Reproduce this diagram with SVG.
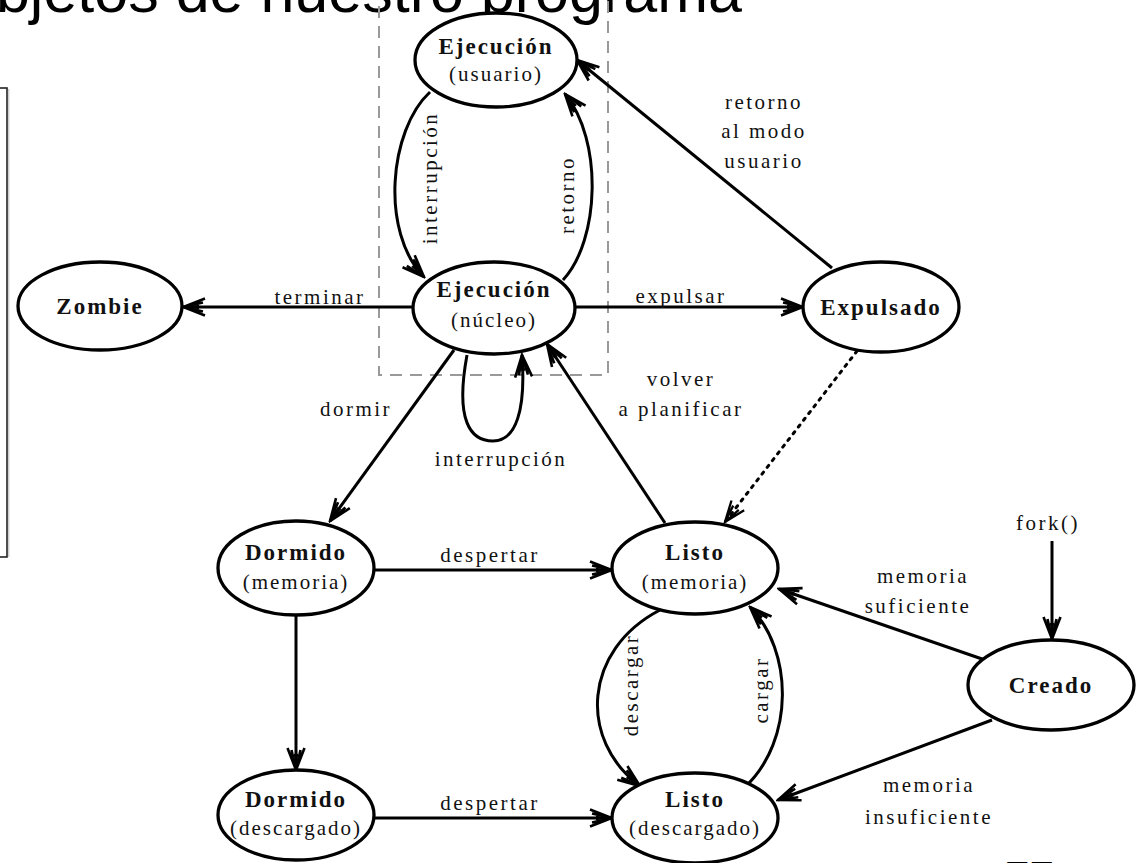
<svg xmlns="http://www.w3.org/2000/svg" width="1137" height="863" viewBox="0 0 1137 863">
  <style>
    .st { fill: #fff; stroke: #000; stroke-width: 3.3; }
    .nm { font-family: "Liberation Serif", "DejaVu Serif", serif; font-weight: bold; font-size: 23px; letter-spacing: 2px; text-anchor: middle; fill: #111; }
    .sub { font-family: "Liberation Serif", "DejaVu Serif", serif; font-size: 21px; letter-spacing: 2px; text-anchor: middle; fill: #111; }
    .lbl { font-family: "Liberation Serif", "DejaVu Serif", serif; font-size: 21px; letter-spacing: 2.5px; text-anchor: middle; fill: #111; }
    .edge { fill: none; stroke: #000; stroke-width: 3; marker-end: url(#arr); }
    .dot { fill: none; stroke: #000; stroke-width: 3; stroke-dasharray: 2.5 6; stroke-linecap: round; marker-end: url(#arrThin); }
    .title { font-family: "Liberation Sans", Arial, sans-serif; font-size: 61px; fill: #000; }
  </style>
  <defs>
    <!-- double-barbed arrowhead with a solid core -->
    <marker id="arr" viewBox="-26 -12 28 24" refX="0" refY="0" markerWidth="28" markerHeight="24" markerUnits="userSpaceOnUse" orient="auto">
      <path d="M-22,-8.5 L0,0 L-22,8.5 M-20,-4.5 L0,0 L-20,4.5" fill="none" stroke="#000" stroke-width="2.6"/>
      <path d="M-16,-2.2 L0,0 L-16,2.2 Z" fill="#000"/>
    </marker>
    <marker id="arrThin" viewBox="-26 -12 28 24" refX="0" refY="0" markerWidth="28" markerHeight="24" markerUnits="userSpaceOnUse" orient="auto">
      <path d="M-21,-8 L0,0 L-21,8 M-18,-3.5 L0,0 L-18,3.5" fill="none" stroke="#000" stroke-width="2.3"/>
    </marker>
  </defs>

  <rect width="1137" height="863" fill="#fff"/>

  <!-- heading, cut by the top edge -->
  <text class="title" x="-38" y="12">objetos de nuestro programa</text>

  <!-- frame on the left margin -->
  <rect x="-10" y="88" width="17" height="469" fill="none" stroke="#222" stroke-width="1.6"/>
  <line x1="8.8" y1="89" x2="8.8" y2="557" stroke="#bbb" stroke-width="1"/>

  <!-- running-mode region -->
  <rect x="379" y="-10" width="229" height="385" fill="none" stroke="#999" stroke-width="2" stroke-dasharray="12 8"/>

  <!-- page number -->
  <text x="1005" y="893" font-family="Liberation Sans, Arial, sans-serif" font-size="44" fill="#000">77</text>

  <g id="connectors">
    <!-- terminar -->
    <path class="edge" d="M413,307 L183,307"/>
    <text class="lbl" x="320" y="304">terminar</text>
    <!-- expulsar -->
    <path class="edge" d="M576,307 L803,307"/>
    <text class="lbl" x="681" y="303">expulsar</text>
    <!-- retorno al modo usuario -->
    <path class="edge" d="M832,268 L577,60"/>
    <text class="lbl" x="764" y="109">retorno</text>
    <text class="lbl" x="764" y="138">al modo</text>
    <text class="lbl" x="764" y="168">usuario</text>
    <!-- interrupción: usuario to núcleo -->
    <path class="edge" d="M430,92 C389,130 380,232 424,277"/>
    <text class="lbl" transform="translate(437,178) rotate(-90)">interrupción</text>
    <!-- retorno: núcleo to usuario -->
    <path class="edge" d="M563,280 C600,240 603,140 565,94"/>
    <text class="lbl" transform="translate(574,195) rotate(-90)">retorno</text>
    <!-- interrupción: self loop on núcleo -->
    <path class="edge" d="M467,355 C455,420 470,441 493,441 C516,441 526,410 522,355"/>
    <text class="lbl" x="501" y="466">interrupción</text>
    <!-- dormir -->
    <path class="edge" d="M454,350 L330,521"/>
    <text class="lbl" x="356" y="416">dormir</text>
    <!-- volver a planificar -->
    <path class="edge" d="M665,523 L547,344"/>
    <text class="lbl" x="681" y="386">volver</text>
    <text class="lbl" x="681" y="416">a planificar</text>
    <!-- expulsado back to listo -->
    <path class="dot" d="M857,351 L725,522"/>
    <!-- despertar (memoria) -->
    <path class="edge" d="M375,570 L612,570"/>
    <text class="lbl" x="490" y="562">despertar</text>
    <!-- dormido memoria to descargado -->
    <path class="edge" d="M296,615 L296,770"/>
    <!-- despertar (descargado) -->
    <path class="edge" d="M374,818 L612,818"/>
    <text class="lbl" x="490" y="810">despertar</text>
    <!-- descargar -->
    <path class="edge" d="M660,610 C583,650 578,740 640,786"/>
    <text class="lbl" transform="translate(638,685) rotate(-90)">descargar</text>
    <!-- cargar -->
    <path class="edge" d="M745,787 C795,740 793,650 750,607"/>
    <text class="lbl" transform="translate(768,690) rotate(-90)">cargar</text>
    <!-- memoria suficiente -->
    <path class="edge" d="M985,660 L779,589"/>
    <text class="lbl" x="923" y="583">memoria</text>
    <text class="lbl" x="918" y="613">suficiente</text>
    <!-- memoria insuficiente -->
    <path class="edge" d="M992,720 L778,800"/>
    <text class="lbl" x="929" y="792">memoria</text>
    <text class="lbl" x="929" y="824">insuficiente</text>
    <!-- fork() -->
    <path class="edge" d="M1052,541 L1052,639"/>
    <text class="lbl" x="1048" y="530">fork()</text>
  </g>

  <g id="ejecucion-usuario">
    <ellipse class="st" cx="496" cy="60" rx="81" ry="47"/>
    <text class="nm" x="496" y="54">Ejecución</text>
    <text class="sub" x="496" y="81">(usuario)</text>
  </g>
  <g id="ejecucion-nucleo">
    <ellipse class="st" cx="494" cy="308" rx="81" ry="46"/>
    <text class="nm" x="494" y="297">Ejecución</text>
    <text class="sub" x="494" y="327">(núcleo)</text>
  </g>
  <g id="zombie">
    <ellipse class="st" cx="100" cy="306" rx="82" ry="44"/>
    <text class="nm" x="100" y="314">Zombie</text>
  </g>
  <g id="expulsado">
    <ellipse class="st" cx="881" cy="307" rx="78" ry="45"/>
    <text class="nm" x="881" y="315">Expulsado</text>
  </g>
  <g id="dormido-memoria">
    <ellipse class="st" cx="296" cy="568" rx="78" ry="47"/>
    <text class="nm" x="296" y="560">Dormido</text>
    <text class="sub" x="296" y="589">(memoria)</text>
  </g>
  <g id="listo-memoria">
    <ellipse class="st" cx="695" cy="568" rx="83" ry="46"/>
    <text class="nm" x="695" y="560">Listo</text>
    <text class="sub" x="695" y="589">(memoria)</text>
  </g>
  <g id="dormido-descargado">
    <ellipse class="st" cx="296" cy="815" rx="78" ry="45"/>
    <text class="nm" x="296" y="807">Dormido</text>
    <text class="sub" x="296" y="835">(descargado)</text>
  </g>
  <g id="listo-descargado">
    <ellipse class="st" cx="695" cy="818" rx="83" ry="45"/>
    <text class="nm" x="695" y="807">Listo</text>
    <text class="sub" x="695" y="835">(descargado)</text>
  </g>
  <g id="creado">
    <ellipse class="st" cx="1051" cy="685" rx="83" ry="45"/>
    <text class="nm" x="1051" y="693">Creado</text>
  </g>
</svg>
